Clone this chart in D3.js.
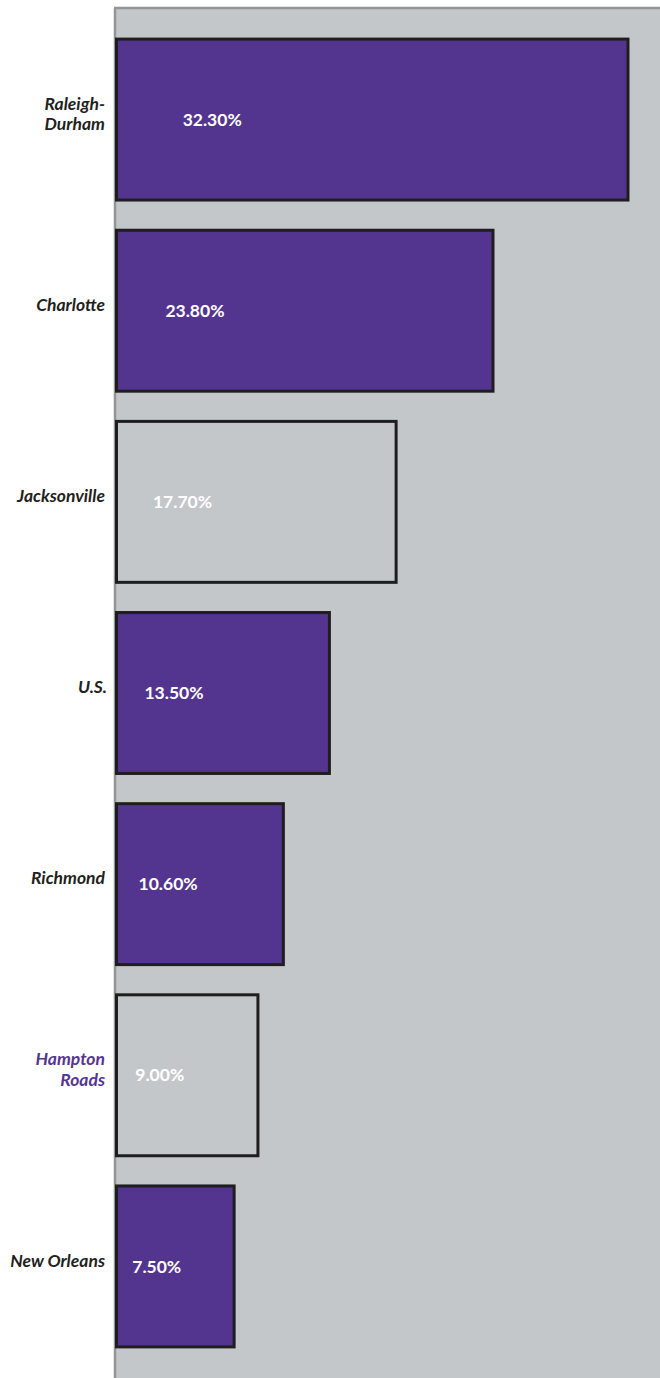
<!DOCTYPE html>
<html>
<head>
<meta charset="utf-8">
<script src="https://cdn.jsdelivr.net/npm/d3@7"></script>
<style>
html,body{margin:0;padding:0;background:#fff;}
svg{display:block;}
</style>
</head>
<body>
<script>
const categories = ["Raleigh-Durham","Charlotte","Jacksonville","U.S.","Richmond","Hampton Roads","New Orleans"];
const labelLines = [["Raleigh-","Durham"],["Charlotte"],["Jacksonville"],["U.S."],["Richmond"],["Hampton","Roads"],["New Orleans"]];
const values = [32.3, 23.8, 17.7, 13.5, 10.6, 9.0, 7.5];
const valueLabels = ["32.30%","23.80%","17.70%","13.50%","10.60%","9.00%","7.50%"];
const highlighted = [true, true, false, true, true, false, true];
const focusCategory = "Hampton Roads";

const W = 660, H = 1378;
const plotLeft = 115, plotTop = 8;

const svg = d3.select("body").append("svg").attr("width", W).attr("height", H);

const x = d3.scaleLinear().domain([0, 32.3]).range([plotLeft, 628]);
const y = d3.scaleBand().domain(categories).range([24, 1362]).paddingInner(0.158).paddingOuter(0.079);

// plot background
svg.append("rect").attr("x", plotLeft).attr("y", plotTop).attr("width", W - plotLeft).attr("height", H - plotTop).attr("fill", "#c4c7ca");
// frame lines
svg.append("line").attr("x1", plotLeft - 1).attr("x2", W).attr("y1", plotTop).attr("y2", plotTop).attr("stroke", "#939598").attr("stroke-width", 2.5);
svg.append("line").attr("x1", plotLeft).attr("x2", plotLeft).attr("y1", plotTop).attr("y2", H).attr("stroke", "#939598").attr("stroke-width", 2.5);

const data = categories.map((c, i) => ({c, v: values[i], lab: valueLabels[i], lines: labelLines[i], hi: highlighted[i]}));

svg.selectAll("rect.bar").data(data).enter().append("rect").attr("class", "bar")
  .attr("x", x(0) + 1.5)
  .attr("y", d => y(d.c))
  .attr("width", d => x(d.v) - x(0) - 1.5)
  .attr("height", y.bandwidth())
  .attr("fill", d => d.hi ? "#533590" : "#c4c7ca")
  .attr("stroke", "#1e1e1e")
  .attr("stroke-width", 3);

svg.selectAll("text.val").data(data).enter().append("text").attr("class", "val")
  .attr("x", d => x(0) + (x(d.v) - x(0)) * 0.128 + 2)
  .attr("y", d => y(d.c) + y.bandwidth() / 2)
  .attr("dy", "0.35em")
  .attr("fill", "#ffffff")
  .attr("font-family", "Lato, 'Open Sans', sans-serif")
  .attr("font-weight", "bold")
  .attr("font-size", 17.5)
  .text(d => d.lab);

const lab = svg.selectAll("text.cat").data(data).enter().append("text").attr("class", "cat")
  .attr("text-anchor", "end")
  .attr("font-family", "Lato, 'Open Sans', sans-serif")
  .attr("font-weight", "bold")
  .attr("font-style", "italic")
  .attr("font-size", 17.5)
  .attr("fill", d => d.c === focusCategory ? "#553592" : "#231f20")
  .attr("y", d => y(d.c) + y.bandwidth() / 2 - 6 - (d.lines.length - 1) * 10);

lab.selectAll("tspan").data(d => d.lines).enter().append("tspan")
  .attr("x", d => d === "U.S." ? 107 : 105)
  .attr("dy", (t, i) => i === 0 ? "0.35em" : "1.15em")
  .text(t => t);
</script>
</body>
</html>
